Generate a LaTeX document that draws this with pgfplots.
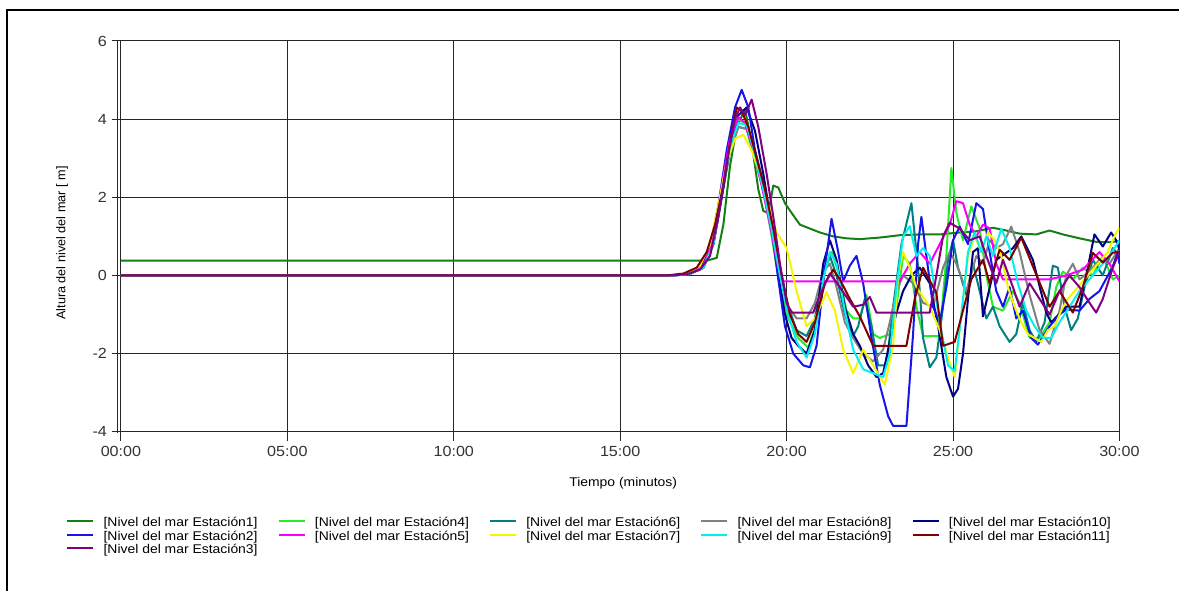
\documentclass[border=0pt]{standalone}
\usepackage{fontspec}
\setmainfont{Liberation Sans}[FakeStretch=1.1]
\newfontfamily\plainsans{Liberation Sans}
\usepackage{pgfplots}
\pgfplotsset{compat=1.18}
\definecolor{c1}{RGB}{20,128,20}
\definecolor{c2}{RGB}{20,20,235}
\definecolor{c3}{RGB}{128,0,128}
\definecolor{c4}{RGB}{40,235,40}
\definecolor{c5}{RGB}{250,0,250}
\definecolor{c6}{RGB}{0,128,128}
\definecolor{c7}{RGB}{245,245,0}
\definecolor{c8}{RGB}{128,128,128}
\definecolor{c9}{RGB}{0,240,240}
\definecolor{c10}{RGB}{0,0,128}
\definecolor{c11}{RGB}{128,0,0}
\begin{document}
\begin{tikzpicture}
\path (0,0) rectangle (885pt,443.25pt);
\draw[line width=0.9pt] (5.25pt,0) -- (5.25pt,435.75pt) -- (885pt,435.75pt);
\begin{axis}[
  name=ax,
  at={(90.75pt,119.25pt)}, anchor=south west,
  scale only axis, width=749.25pt, height=293.25pt,
  xmin=0, xmax=30, ymin=-4, ymax=6,
  xtick={0,5,10,15,20,25,30},
  xticklabels={00:00,05:00,10:00,15:00,20:00,25:00,30:00},
  ytick={-4,-2,0,2,4,6},
  yticklabels={-4,-2,0,2,4,6},
  tick pos=left, tick align=outside,
  major tick length=7pt,
  tick style={black!85, line width=0.75pt},
  grid=major,
  major grid style={black!85, line width=0.75pt},
  axis line style={black!85, line width=0.75pt},
  ticklabel style={font=\fontsize{11}{13}\selectfont, text=black!80},
  xlabel={Tiempo (minutos)},
  ylabel={\plainsans Altura del nivel del mar [ m]},
  label style={font=\fontsize{9.5}{11}\selectfont},
  xlabel style={at={(axis description cs:0.503,-0.132)}, anchor=center},
  ylabel style={at={(axis description cs:-0.059,0.483)}, anchor=center, rotate=0},
  legend columns=5,
  legend cell align=left,
  legend style={at={(axis description cs:-0.055,-0.216)}, anchor=north west,
    draw=none, fill=none, inner sep=0pt,
    font=\fontsize{9.5}{11}\selectfont,
    nodes={inner xsep=0pt, inner ysep=0.5pt, text height=7.2pt, text depth=2pt},
    column sep=7pt,
    /tikz/every even column/.append style={column sep=15pt}},
  legend image code/.code={\draw[#1,line width=1.5pt] (0pt,1.5pt) -- (19.5pt,1.5pt);},
  every axis plot/.append style={line width=1.5pt, line join=round, forget plot},
]
% Station 1
\addplot[c1] coordinates {(0,0.38) (17.6,0.38) (17.9,0.45) (18.1,1.3) (18.3,2.8) (18.5,3.8) (18.75,4.25) (18.95,3.4) (19.15,2.2) (19.3,1.65) (19.45,1.6) (19.6,2.3) (19.75,2.25) (19.95,1.85) (20.15,1.6) (20.4,1.3) (20.7,1.2) (21.0,1.1) (21.4,1.0) (21.8,0.95) (22.2,0.93) (22.8,0.97) (23.4,1.03) (24.0,1.05) (24.6,1.05) (25.2,1.1) (25.7,1.13) (26.2,1.22) (26.6,1.15) (27.0,1.07) (27.5,1.05) (27.9,1.15) (28.3,1.05) (28.8,0.95) (29.3,0.86) (29.7,0.85) (30,0.88)};
% Station 4
\addplot[c4] coordinates {(0,0) (16.6,0) (17.1,0.04) (17.5,0.25) (17.8,0.9) (18.05,2.2) (18.3,3.4) (18.55,4.0) (18.75,3.9) (19.0,3.1) (19.3,2.2) (19.55,1.0) (19.8,-0.3) (20.05,-1.1) (20.35,-1.6) (20.65,-1.85) (20.9,-1.2) (21.15,0.1) (21.35,0.6) (21.55,0.1) (21.8,-0.9) (22.0,-1.1) (22.2,-1.1) (22.4,-0.5) (22.6,-1.5) (22.8,-1.6) (23.1,-1.5) (23.3,-0.8) (23.5,0.5) (23.7,0.3) (23.9,-0.8) (24.1,-1.55) (24.6,-1.55) (24.8,0.5) (24.95,2.75) (25.1,1.6) (25.3,0.9) (25.55,1.77) (25.8,1.2) (26.0,0.0) (26.2,-0.8) (26.5,-0.9) (26.8,-0.4) (27.0,-0.7) (27.3,-1.6) (27.6,-1.6) (27.9,-1.2) (28.1,-0.3) (28.3,0.1) (28.6,-0.1) (28.9,0.2) (29.2,0.0) (29.5,0.5) (29.8,-0.1) (30,0.0)};
% Station 6
\addplot[c6] coordinates {(0,0) (16.6,0) (17.1,0.04) (17.5,0.2) (17.8,0.8) (18.05,2.0) (18.3,3.2) (18.55,3.8) (18.8,3.75) (19.05,3.1) (19.3,2.3) (19.55,1.3) (19.8,0.2) (20.05,-0.8) (20.3,-1.4) (20.6,-1.55) (20.85,-1.1) (21.1,0.1) (21.3,0.5) (21.5,0.0) (21.75,-1.0) (22.0,-1.55) (22.15,-1.3) (22.35,-0.6) (22.55,-1.3) (22.75,-2.3) (23.0,-2.3) (23.2,-0.8) (23.45,0.8) (23.75,1.85) (23.95,0.2) (24.1,-1.6) (24.3,-2.35) (24.5,-2.1) (24.7,-0.8) (24.85,0.4) (25.0,0.9) (25.15,0.2) (25.4,-0.5) (25.6,0.3) (25.8,-0.4) (26.0,-1.1) (26.2,-0.8) (26.4,-1.3) (26.7,-1.7) (26.9,-1.5) (27.1,-0.7) (27.3,-1.4) (27.5,-1.7) (27.75,-1.2) (28.0,0.25) (28.15,0.2) (28.35,-0.8) (28.55,-1.4) (28.75,-1.1) (28.95,-0.3) (29.2,0.4) (29.5,0.0) (29.8,0.7) (30,0.5)};
% Station 8
\addplot[c8] coordinates {(0,0) (16.6,0) (17.1,0.04) (17.5,0.2) (17.8,0.8) (18.05,2.0) (18.3,3.2) (18.55,3.8) (18.8,3.75) (19.05,3.2) (19.3,2.4) (19.55,1.3) (19.8,0.1) (20.05,-0.8) (20.3,-1.1) (20.6,-1.1) (20.85,-0.7) (21.1,0.1) (21.3,0.3) (21.5,-0.3) (21.75,-1.2) (22.0,-1.6) (22.3,-2.0) (22.6,-2.2) (22.9,-1.9) (23.1,-1.2) (23.3,-0.4) (23.5,0.0) (23.8,-0.2) (24.1,-0.7) (24.4,-0.8) (24.7,0.2) (24.9,0.6) (25.1,0.3) (25.4,-0.4) (25.7,0.5) (25.9,0.3) (26.1,0.9) (26.3,0.7) (26.5,0.8) (26.75,1.25) (27.0,0.6) (27.3,-0.5) (27.6,-1.4) (27.9,-1.75) (28.2,-0.9) (28.4,0.0) (28.6,0.3) (28.8,-0.1) (29.1,0.1) (29.4,0.4) (29.7,0.3) (30,0.7)};
% Station 10
\addplot[c10] coordinates {(0,0) (16.6,0) (17.1,0.04) (17.5,0.2) (17.8,0.8) (18.05,2.0) (18.3,3.3) (18.55,4.1) (18.8,4.3) (19.05,3.7) (19.3,2.6) (19.55,1.3) (19.75,0.0) (19.95,-1.0) (20.15,-1.6) (20.35,-1.8) (20.6,-2.0) (20.85,-1.4) (21.1,0.3) (21.3,0.9) (21.5,0.4) (21.75,-0.8) (22.0,-1.5) (22.2,-1.8) (22.45,-2.3) (22.7,-2.6) (22.9,-2.5) (23.15,-1.5) (23.3,-0.95) (23.5,-0.4) (23.75,0.0) (24.0,0.2) (24.3,-0.2) (24.55,-1.3) (24.8,-2.6) (25.0,-3.1) (25.15,-2.9) (25.3,-2.0) (25.45,-0.6) (25.6,0.6) (25.75,0.7) (25.9,-1.05) (26.05,-0.5) (26.3,0.4) (26.8,0.7) (27.05,1.0) (27.4,0.4) (27.8,-0.95) (27.95,-1.2) (28.4,-0.8) (28.8,-0.8) (29.05,0.2) (29.25,1.05) (29.5,0.74) (29.75,1.1) (29.9,0.9) (30,0.66)};
% Station 2
\addplot[c2] coordinates {(0,0) (16.5,0) (17.0,0.04) (17.4,0.2) (17.7,0.7) (17.95,1.8) (18.2,3.2) (18.45,4.3) (18.65,4.75) (18.85,4.3) (19.05,3.2) (19.3,2.3) (19.55,1.2) (19.75,-0.1) (19.95,-1.3) (20.2,-2.0) (20.5,-2.3) (20.7,-2.35) (20.9,-1.8) (21.15,0.2) (21.35,1.45) (21.55,0.6) (21.7,-0.15) (21.9,0.25) (22.1,0.5) (22.3,-0.2) (22.55,-1.6) (22.8,-2.8) (23.05,-3.6) (23.2,-3.85) (23.6,-3.85) (23.8,-1.5) (23.95,0.8) (24.05,1.5) (24.2,0.5) (24.4,-0.8) (24.6,-1.2) (24.8,-0.3) (25.0,0.9) (25.2,1.25) (25.45,0.8) (25.7,1.85) (25.9,1.7) (26.1,0.6) (26.3,-0.4) (26.5,-0.8) (26.7,-0.3) (26.9,-1.1) (27.1,-0.9) (27.35,-1.6) (27.55,-1.77) (27.9,-1.3) (28.2,-1.0) (28.4,-0.87) (28.8,-0.9) (29.1,-0.6) (29.4,-0.4) (29.8,0.23) (29.95,0.6) (30,0.3)};
% Station 5
\addplot[c5] coordinates {(0,0) (16.6,0) (17.1,0.04) (17.5,0.25) (17.8,0.9) (18.05,2.3) (18.3,3.5) (18.55,4.05) (18.75,3.9) (19.0,3.2) (19.25,2.3) (19.5,1.3) (19.7,0.4) (19.85,-0.15) (23.4,-0.15) (23.7,0.3) (24.0,0.6) (24.3,0.3) (24.6,0.8) (24.9,1.3) (25.1,1.9) (25.3,1.85) (25.5,1.3) (25.7,1.0) (25.9,1.3) (26.1,1.2) (26.3,0.3) (26.5,-0.1) (27.9,-0.1) (28.4,0.0) (28.9,0.15) (29.4,0.6) (29.7,0.3) (30,-0.15)};
% Station 7
\addplot[c7] coordinates {(0,0) (16.5,0) (17.0,0.04) (17.4,0.25) (17.7,0.8) (17.95,1.8) (18.2,2.9) (18.45,3.5) (18.7,3.6) (18.95,3.2) (19.2,2.6) (19.45,1.8) (19.7,1.1) (20.0,0.7) (20.3,-0.4) (20.6,-1.3) (20.85,-1.1) (21.2,-0.43) (21.45,-0.9) (21.7,-1.9) (22.0,-2.5) (22.3,-1.9) (22.6,-2.3) (22.95,-2.8) (23.2,-1.8) (23.35,0.0) (23.5,0.6) (23.7,0.2) (23.9,-0.3) (24.3,-0.8) (24.6,-1.4) (24.85,-2.1) (25.05,-2.6) (25.25,-1.0) (25.45,0.5) (25.65,1.0) (25.85,0.6) (26.05,1.1) (26.25,0.9) (26.45,0.5) (26.65,-0.3) (26.85,-0.8) (27.05,-1.2) (27.25,-1.5) (27.45,-1.6) (27.65,-1.7) (27.85,-1.4) (28.05,-1.3) (28.25,-0.9) (28.45,-0.6) (28.75,-0.3) (29.05,0.0) (29.35,0.3) (29.65,0.6) (29.9,1.1) (30,1.2)};
% Station 9
\addplot[c9] coordinates {(0,0) (16.6,0) (17.1,0.04) (17.5,0.2) (17.8,0.8) (18.05,2.1) (18.3,3.3) (18.55,3.9) (18.8,3.85) (19.05,3.1) (19.3,2.2) (19.55,1.2) (19.8,0.0) (20.05,-1.0) (20.3,-1.7) (20.6,-2.1) (20.85,-1.5) (21.1,-0.1) (21.3,0.6) (21.5,0.3) (21.75,-0.9) (22.0,-1.9) (22.3,-2.4) (22.6,-2.5) (22.9,-2.6) (23.1,-2.0) (23.3,-0.3) (23.5,1.0) (23.7,1.26) (23.9,0.5) (24.1,0.7) (24.3,0.5) (24.6,-1.2) (24.85,-2.3) (25.05,-2.45) (25.25,-1.0) (25.45,0.6) (25.65,1.1) (25.85,0.6) (26.0,1.0) (26.2,0.5) (26.45,1.2) (26.7,0.7) (26.95,-0.2) (27.2,-0.9) (27.45,-1.3) (27.7,-1.6) (27.95,-1.6) (28.2,-1.2) (28.5,-0.8) (28.8,-0.4) (29.1,-0.1) (29.4,0.2) (29.7,0.5) (30,0.9)};
% Station 11
\addplot[c11] coordinates {(0,0) (16.4,0) (16.9,0.05) (17.3,0.2) (17.6,0.6) (17.85,1.3) (18.1,2.3) (18.3,3.4) (18.5,4.3) (18.65,4.2) (18.85,3.8) (19.1,3.0) (19.35,2.2) (19.6,1.2) (19.85,0.0) (20.1,-1.0) (20.35,-1.5) (20.6,-1.7) (20.85,-1.2) (21.15,-0.2) (21.4,0.15) (21.6,-0.1) (21.9,-0.6) (22.2,-1.05) (22.6,-1.8) (23.6,-1.8) (23.85,-0.6) (24.1,0.2) (24.5,-0.45) (24.7,-1.8) (25.05,-1.7) (25.3,-0.9) (25.55,-0.1) (25.9,0.4) (26.1,-0.2) (26.4,0.66) (26.7,0.4) (27.05,0.97) (27.4,0.23) (27.9,-0.8) (28.2,-0.4) (28.6,-0.95) (28.9,-0.3) (29.2,0.58) (29.5,0.33) (29.8,0.58) (30,0.6)};
% Station 3
\addplot[c3] coordinates {(0,0) (16.5,0) (17.0,0.03) (17.4,0.15) (17.7,0.5) (17.95,1.5) (18.2,2.9) (18.45,4.0) (18.6,4.3) (18.75,4.1) (18.95,4.5) (19.15,3.8) (19.4,2.6) (19.6,1.5) (19.8,0.3) (20.0,-0.7) (20.15,-0.95) (20.8,-0.95) (21.0,-0.5) (21.3,0.05) (21.6,-0.3) (22.0,-0.8) (22.3,-0.75) (22.5,-0.55) (22.7,-0.95) (24.3,-0.95) (24.5,0.0) (24.7,1.0) (24.9,1.35) (25.2,1.2) (25.5,0.9) (25.8,1.0) (26.0,0.5) (26.3,-0.2) (26.5,0.4) (26.8,-0.3) (27.0,-0.8) (27.3,-0.2) (27.6,-0.6) (27.9,-1.0) (28.2,-0.4) (28.5,0.0) (28.8,-0.3) (29.1,-0.7) (29.3,-0.95) (29.5,-0.6) (29.8,0.2) (30,0.6)};
% legend, row-wise order to match the column layout
\addlegendimage{c1}\addlegendentry{[Nivel del mar Estación1]}
\addlegendimage{c4}\addlegendentry{[Nivel del mar Estación4]}
\addlegendimage{c6}\addlegendentry{[Nivel del mar Estación6]}
\addlegendimage{c8}\addlegendentry{[Nivel del mar Estación8]}
\addlegendimage{c10}\addlegendentry{[Nivel del mar Estación10]}
\addlegendimage{c2}\addlegendentry{[Nivel del mar Estación2]}
\addlegendimage{c5}\addlegendentry{[Nivel del mar Estación5]}
\addlegendimage{c7}\addlegendentry{[Nivel del mar Estación7]}
\addlegendimage{c9}\addlegendentry{[Nivel del mar Estación9]}
\addlegendimage{c11}\addlegendentry{[Nivel del mar Estación11]}
\addlegendimage{c3}\addlegendentry{[Nivel del mar Estación3]}
\end{axis}
\draw[black!85, line width=0.75pt] ([xshift=-2.6pt,yshift=-1pt]ax.south west) -- ([xshift=-2.6pt]ax.north west);
\end{tikzpicture}
\end{document}
